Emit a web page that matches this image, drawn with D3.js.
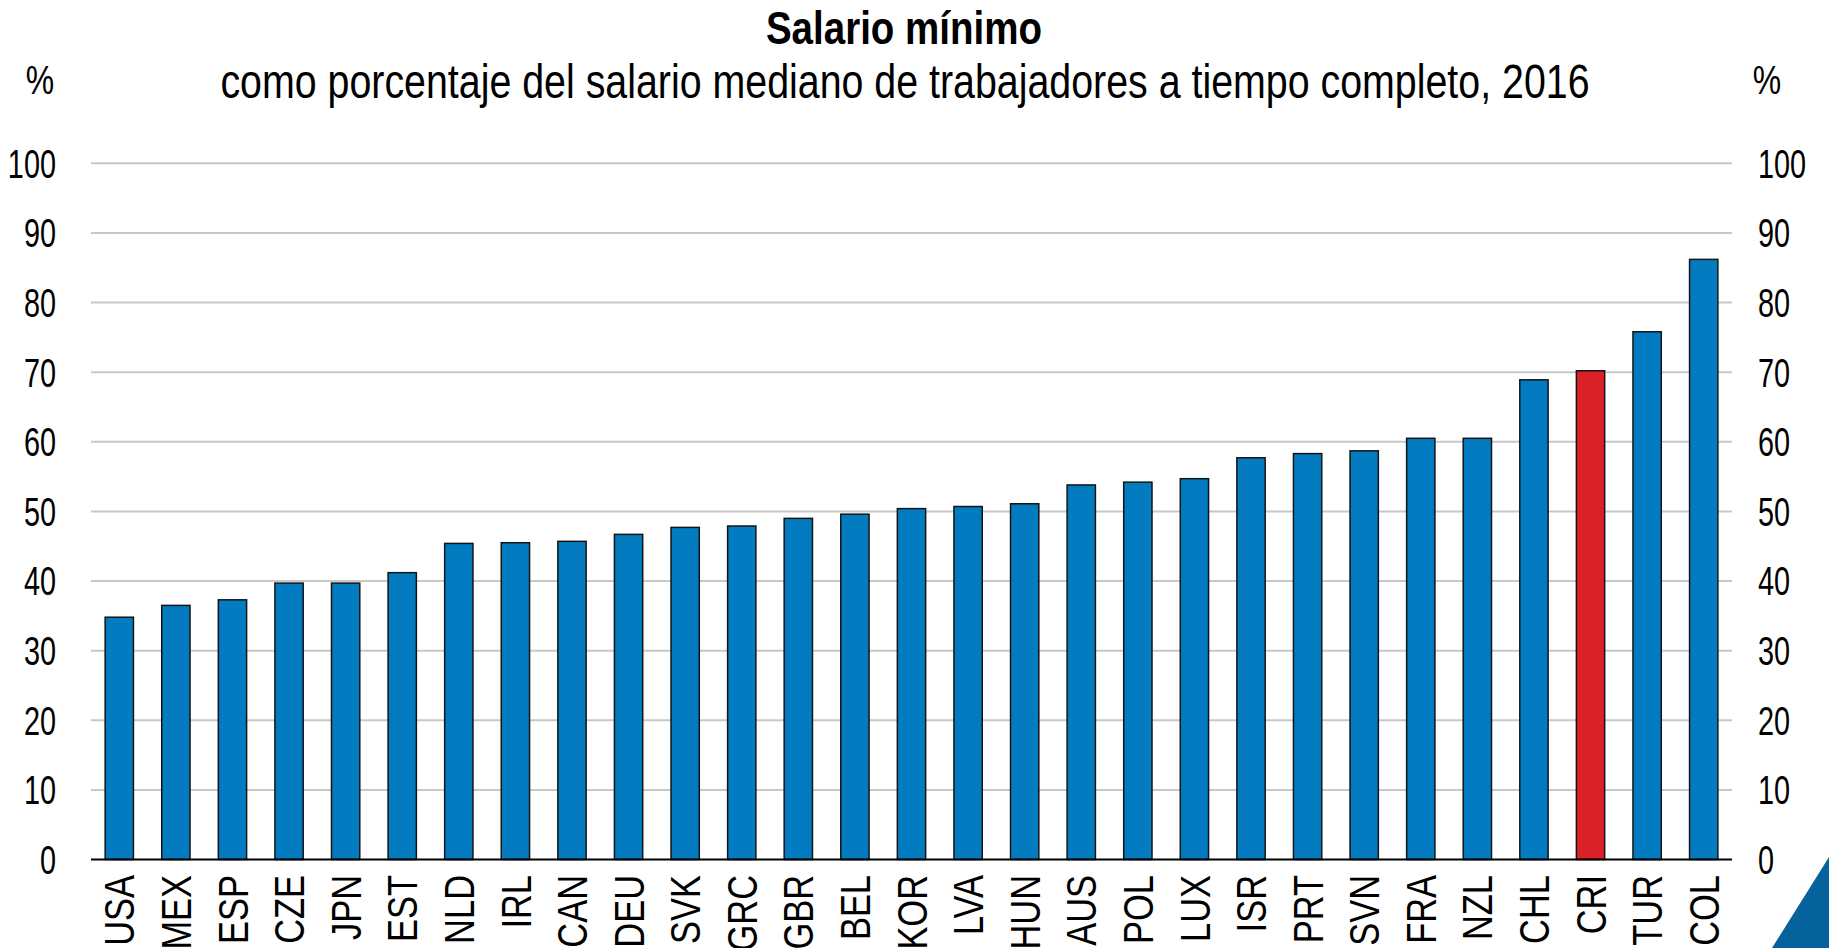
<!DOCTYPE html>
<html>
<head>
<meta charset="utf-8">
<script src="https://cdn.jsdelivr.net/npm/d3@7"></script>
<style>
  html, body { margin: 0; padding: 0; background: #ffffff; }
  svg { display: block; }
</style>
</head>
<body>
<svg id="chart" width="1829" height="948"></svg>
<script>
// Minimum wage relative to median wage of full-time workers, 2016
const countries = ["USA","MEX","ESP","CZE","JPN","EST","NLD","IRL","CAN","DEU","SVK","GRC","GBR","BEL","KOR","LVA","HUN","AUS","POL","LUX","ISR","PRT","SVN","FRA","NZL","CHL","CRI","TUR","COL"];
const values = [34.8,36.5,37.3,39.7,39.7,41.2,45.4,45.5,45.7,46.7,47.7,47.9,49.0,49.6,50.4,50.7,51.1,53.8,54.2,54.7,57.7,58.3,58.7,60.5,60.5,68.9,70.2,75.8,86.2];
const highlighted = ["CRI"];
const yTicks = [0,10,20,30,40,50,60,70,80,90,100];

const titleText = "Salario mínimo";
const subtitleText = "como porcentaje del salario mediano de trabajadores a tiempo completo, 2016";
const unitText = "%";

const W = 1829, H = 948;
const plot = { left: 91, right: 1732, top: 163.3, bottom: 859.5 };
const blue = "#037bc1", red = "#da2128";

const svg = d3.select("#chart");

// Condensed face for all text; fall back to a horizontally scaled regular face
const narrowFamily = "'Liberation Sans Narrow', 'Arial Narrow', sans-serif";
const regularFamily = "'Liberation Sans', Arial, Helvetica, sans-serif";
function measure(family) {
  const t = svg.append("text").attr("font-family", family).attr("font-size", 100).text("100 USA");
  const w = t.node().getComputedTextLength();
  t.remove();
  return w;
}
const hasNarrow = measure("'Liberation Sans Narrow'") < measure("'Liberation Sans'") * 0.9;
const family = hasNarrow ? narrowFamily : regularFamily;
const sx = s => hasNarrow ? s : s * 0.82;

const x = d3.scaleBand()
  .domain(countries)
  .range([plot.left, plot.right])
  .paddingInner(0.5)
  .paddingOuter(0.25);

const y = d3.scaleLinear()
  .domain([0, 100])
  .range([plot.bottom, plot.top]);

// Gridlines
svg.append("g")
  .selectAll("line")
  .data(yTicks.filter(d => d > 0))
  .join("line")
  .attr("x1", plot.left).attr("x2", plot.right)
  .attr("y1", d => y(d)).attr("y2", d => y(d))
  .attr("stroke", "#c8c8c8")
  .attr("stroke-width", 2);

// Bars
const data = countries.map((c, i) => ({ country: c, value: values[i] }));
svg.append("g")
  .selectAll("rect")
  .data(data)
  .join("rect")
  .attr("x", d => x(d.country))
  .attr("y", d => y(d.value))
  .attr("width", x.bandwidth())
  .attr("height", d => y(0) - y(d.value))
  .attr("fill", d => highlighted.includes(d.country) ? red : blue)
  .attr("stroke", "#141414")
  .attr("stroke-width", 1.5);

// Baseline
svg.append("line")
  .attr("x1", plot.left).attr("x2", plot.right)
  .attr("y1", y(0)).attr("y2", y(0))
  .attr("stroke", "#000")
  .attr("stroke-width", 2);

// Left and right value axes
function tickLabels(xPos, anchor) {
  svg.append("g")
    .selectAll("text")
    .data(yTicks)
    .join("text")
    .attr("transform", d => `translate(${xPos},${y(d)}) scale(${sx(0.88)},1)`)
    .attr("dy", "0.36em")
    .attr("text-anchor", anchor)
    .attr("font-family", family)
    .attr("font-size", 40)
    .attr("fill", "#000")
    .text(d => d);
}
tickLabels(56, "end");
tickLabels(1758, "start");

// Category labels, rotated to read upwards
svg.append("g")
  .selectAll("text")
  .data(countries)
  .join("text")
  .attr("transform", d => `translate(${x(d) + x.bandwidth() / 2},875) rotate(-90) scale(${sx(1)},1)`)
  .attr("dy", "0.36em")
  .attr("text-anchor", "end")
  .attr("font-family", family)
  .attr("font-size", 42)
  .attr("fill", "#000")
  .text(d => d);

// Unit markers
[40, 1767].forEach(px => {
  svg.append("text")
    .attr("transform", `translate(${px},94) scale(${sx(0.95)},1)`)
    .attr("text-anchor", "middle")
    .attr("font-family", family)
    .attr("font-size", 41)
    .text(unitText);
});

// Titles
svg.append("text")
  .attr("transform", `translate(904,44) scale(${sx(1)},1)`)
  .attr("text-anchor", "middle")
  .attr("font-family", family)
  .attr("font-weight", "bold")
  .attr("font-size", 47)
  .text(titleText);
svg.append("text")
  .attr("transform", `translate(905,98) scale(${sx(1)},1)`)
  .attr("text-anchor", "middle")
  .attr("font-family", family)
  .attr("font-size", 48)
  .text(subtitleText);

// Corner accent
svg.append("path")
  .attr("d", d3.line()([[1772, H], [W, 857], [W, H]]) + "Z")
  .attr("fill", "#05629a");
</script>
</body>
</html>
